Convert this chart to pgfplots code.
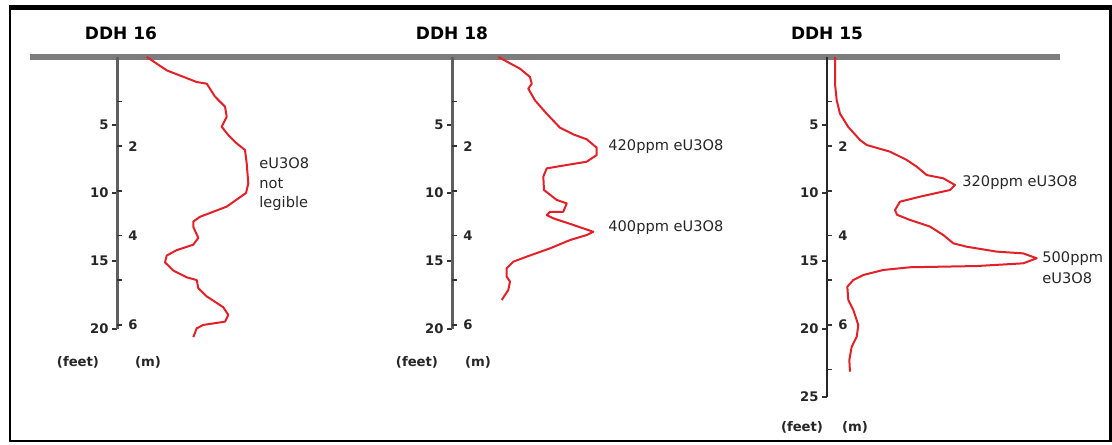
\documentclass[border=0pt]{standalone}
\usepackage{fontspec}
\setmainfont{DejaVu Sans}
\usepackage{pgfplots}
\pgfplotsset{compat=1.18}
\definecolor{logred}{RGB}{226,32,40}
\definecolor{axgray}{RGB}{95,95,95}
\definecolor{surfgray}{RGB}{125,125,125}
\pgfplotsset{
  feetaxis/.style={x=0.5pt, y=6.8pt, y dir=reverse, xmin=0, xmax=220, ymin=0,
    clip=false, axis x line=none, axis y line=left, xtick=\empty,
    axis line style={-, line width=1.5pt, axgray},
    tick align=outside, major tick length=2.5pt,
    tick style={line width=0.8pt, black!80},
    yticklabel style={font=\fontsize{6.6}{7}\selectfont\bfseries, text=black!85, inner sep=1.5pt},
    /pgf/number format/assume math mode=true, anchor=north west, at={(0pt,0pt)}},
  maxis/.style={x=0.5pt, y=22.3097pt, y dir=reverse, xmin=-10, xmax=0, ymin=0,
    axis x line=none, axis y line=right, xtick=\empty,
    axis line style={-, draw=none},
    tick align=outside, major tick length=2.5pt,
    tick style={line width=0.8pt, black!80},
    yticklabel style={font=\fontsize{6.6}{7}\selectfont\bfseries, text=black!85, inner sep=1.5pt, xshift=1.5pt},
    /pgf/number format/assume math mode=true, anchor=north east, at={(0pt,0pt)}},
  curve/.style={logred, line width=1pt, line join=round, mark=none}
}
\begin{document}
\begin{tikzpicture}[x=0.5pt,y=-0.5pt]
\path[use as bounding box] (0,0) rectangle (1112,444);
% frame
\draw[line width=2.2pt] (9,7.5) -- (1112,7.5);
\draw[line width=1.3pt] (10,7) -- (10,441) -- (1112,441);
\draw[line width=1.3pt] (1110.5,7) -- (1110.5,441);
% surface line
\draw[surfgray, line width=2.6pt] (30,57) -- (1060,57);

% ---------------- DDH 16 ----------------
\begin{scope}[shift={(117,57)}]
\begin{axis}[feetaxis, ymax=20, ytick={5,10,15,20}]
\addplot[curve] coordinates {
(29.7,0) (49.7,0.98) (79.7,1.84) (89.7,1.96) (98,2.91) (108,3.65) (109.7,4.39)
(104.7,5.13) (111.3,5.74) (119.7,6.35) (128,6.84) (129.7,7.82) (131.3,9.29)
(129,10.0) (109.7,11.0) (83,11.75) (76.3,12.1) (76.3,12.5) (81.3,13.3)
(76.3,13.8) (59.7,14.2) (49.7,14.6) (48,15.1) (56.3,15.7) (69.7,16.2)
(79.7,16.4) (81.3,17.0) (89.7,17.6) (106.3,18.4) (111.3,18.97) (108,19.46)
(86.3,19.7) (79.7,19.95) (76.3,20.6)};
\end{axis}
\begin{axis}[maxis, ymax=6.096, ytick={1,2,3,4,5,6}, yticklabels={,2,,4,,6}]
\end{axis}
\end{scope}

% ---------------- DDH 18 ----------------
\begin{scope}[shift={(452,57)}]
\begin{axis}[feetaxis, ymax=20, ytick={5,10,15,20}]
\addplot[curve] coordinates {
(46.3,0) (68,0.86) (78,1.47) (79.7,1.96) (76.3,2.33) (83,3.19) (94.7,4.17)
(108,5.2) (121.3,5.69) (134.7,6.05) (144.7,6.67) (144.7,7.21) (134.7,7.70)
(114.7,7.94) (94.7,8.19) (91.3,8.80) (92,9.78) (104.7,10.51) (114.7,10.76)
(111.3,11.38) (98,11.38) (94.7,11.62) (101.3,11.86) (121.3,12.35) (141.3,12.85)
(134.7,13.09) (118,13.46) (98,14.07) (74.7,14.68) (61.3,15.05) (54.7,15.54)
(54.7,16.15) (58,16.52) (56.3,17.13) (49.7,17.87)};
\end{axis}
\begin{axis}[maxis, ymax=6.096, ytick={1,2,3,4,5,6}, yticklabels={,2,,4,,6}]
\end{axis}
\end{scope}

% ---------------- DDH 15 ----------------
\begin{scope}[shift={(827,57)}]
\begin{axis}[feetaxis, ymax=25, ytick={5,10,15,20,25},
    axis line style={-, line width=1.2pt, black!85}]
\addplot[curve] coordinates {
(8,0) (8,1.96) (9.7,3.19) (13,4.17) (21.3,5.15) (33,6.1) (39.7,6.47) (63,6.96)
(79.7,7.57) (89.7,8.06) (99.7,8.68) (116.3,8.92) (128,9.41) (123,9.78)
(93,10.27) (73,10.64) (68,11.25) (70,11.6) (83,11.98) (103,12.47) (116.3,13.09)
(126.3,13.70) (139.7,13.95) (169.7,14.31) (196.3,14.44) (209.7,14.80)
(196.3,15.17) (149.7,15.37) (83,15.46) (56.3,15.66) (36.3,16.03) (26.3,16.4)
(20.3,16.89) (21.3,17.87) (26.3,18.6) (31.3,19.71) (29.7,20.57) (24.7,21.3)
(22.3,22.28) (23,23.14)};
\end{axis}
\begin{axis}[maxis, ymax=7.62, ytick={1,2,3,4,5,6,7}, yticklabels={,2,,4,,6,}]
\end{axis}
\end{scope}

% titles
\node[font=\fontsize{8.5}{10}\selectfont\bfseries] at (121,33) {DDH 16};
\node[font=\fontsize{8.5}{10}\selectfont\bfseries] at (452,33) {DDH 18};
\node[font=\fontsize{8.5}{10}\selectfont\bfseries] at (827,33) {DDH 15};
% unit labels
\tikzset{unit/.style={font=\fontsize{6.6}{7}\selectfont\bfseries, text=black!85}}
\node[unit] at (78,362) {(feet)};
\node[unit] at (148,362) {(m)};
\node[unit] at (417,362) {(feet)};
\node[unit] at (478,362) {(m)};
\node[unit] at (802,427) {(feet)};
\node[unit] at (855,427) {(m)};
% annotations
\tikzset{ann/.style={font=\fontsize{7.3}{10}\selectfont, text=black!85, anchor=west, inner sep=0pt}}
\node[ann] at (259,163) {eU3O8};
\node[ann] at (259,183) {not};
\node[ann] at (259,203) {legible};
\node[ann] at (608,147) {420ppm eU3O8};
\node[ann] at (608,228) {400ppm eU3O8};
\node[ann] at (962,183) {320ppm eU3O8};
\node[ann] at (1042,259) {500ppm};
\node[ann] at (1042,278) {eU3O8};
\end{tikzpicture}
\end{document}
